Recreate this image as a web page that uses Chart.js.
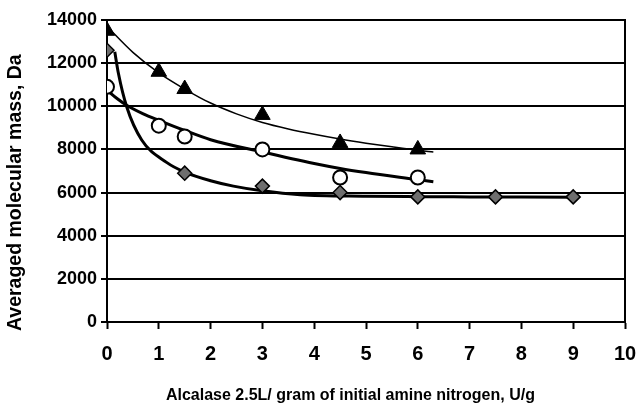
<!DOCTYPE html>
<html>
<head>
<meta charset="utf-8">
<script src="https://cdn.jsdelivr.net/npm/chart.js@4.4.1/dist/chart.umd.min.js"></script>
<style>
  html,body{margin:0;padding:0;background:#fff;}
  #wrap{width:638px;height:406px;position:relative;}
</style>
</head>
<body>
<div id="wrap"><canvas id="c"></canvas></div>
<script>
// measured points
const doses=[0,1,1.5,3,4.5,6];
const triMass=[13500,11600,10800,9600,8300,8000];
const circMass=[10900,9100,8600,8000,6700,6700];
const diaDoses=[0,1.5,3,4.5,6,7.5,9];
const diaMass=[12600,6900,6300,6000,5800,5800,5800];

// trend curves
const triFitX=[0,0.5,1,1.5,2,2.5,3,3.5,4,4.5,5,5.5,6,6.3];
const triFitY=[13700,12500,11550,10800,10150,9650,9250,8950,8700,8480,8290,8120,7960,7880];
const circFitX=[0,0.2,0.38,0.7,1,1.5,2,3,4,4.5,5,6,6.3];
const circFitY=[10750,10350,10050,9650,9350,8880,8450,7880,7350,7120,6930,6600,6500];
const diaFitX=[0.15,0.22,0.38,0.67,1.15,1.5,2,2.44,3,3.73,5,6,7,8,9.1];
const diaFitY=[12530,11530,9980,8440,7400,6950,6550,6300,6080,5900,5830,5810,5800,5790,5780];

const xTicks=[0,1,2,3,4,5,6,7,8,9,10];
const yTicks=[0,2000,4000,6000,8000,10000,12000,14000];

const pts=(xs,ys)=>xs.map((x,i)=>({x,y:ys[i]}));
const FONT="'Liberation Sans',Arial,sans-serif";
const fitLine=(xs,ys,w)=>({data:pts(xs,ys),borderColor:'#000',borderWidth:w,pointRadius:0,fill:false,cubicInterpolationMode:'monotone',order:2});

new Chart(document.getElementById('c'),{
  type:'line',
  data:{datasets:[
    fitLine(triFitX,triFitY,1.5),
    fitLine(circFitX,circFitY,3),
    fitLine(diaFitX,diaFitY,3),
    {data:pts(doses,triMass),showLine:false,pointStyle:'triangle',pointRadius:9,backgroundColor:'#000',borderColor:'#000',borderWidth:1,order:1},
    {data:pts(doses,circMass),showLine:false,pointStyle:'circle',pointRadius:7,backgroundColor:'#fff',borderColor:'#000',borderWidth:2,order:1},
    {data:pts(diaDoses,diaMass),showLine:false,pointStyle:'rectRot',pointRadius:7,backgroundColor:'#6e6e6e',borderColor:'#000',borderWidth:1.5,order:1}
  ]},
  options:{
    responsive:true,maintainAspectRatio:false,animation:false,
    layout:{padding:{left:0,top:20,right:13,bottom:0}},
    plugins:{legend:{display:false},tooltip:{enabled:false}},
    scales:{
      x:{type:'linear',min:0,max:10,
        afterBuildTicks:s=>{s.ticks=xTicks.map(v=>({value:v}));},
        afterFit:s=>{s.height=84;s.paddingRight=0;s.paddingLeft=0;},
        grid:{drawOnChartArea:false,drawTicks:true,tickLength:7,tickColor:'#000',tickWidth:2},
        border:{display:true,color:'#000',width:2},
        ticks:{color:'#000',font:{family:FONT,size:20,weight:'bold'},padding:13,maxRotation:0,callback:v=>String(v)},
        title:{display:true,text:'Alcalase 2.5L/ gram of initial amine nitrogen, U/g       ',color:'#000',
          font:{family:FONT,size:16,weight:'bold'},padding:{top:0,bottom:1}}
      },
      y:{min:0,max:14000,
        afterBuildTicks:s=>{s.ticks=yTicks.map(v=>({value:v}));},
        afterFit:s=>{s.width=107;},
        grid:{color:'#000',lineWidth:2,drawTicks:true,tickLength:6,tickColor:'#000'},
        border:{display:true,color:'#000',width:2},
        ticks:{color:'#000',font:{family:FONT,size:18,weight:'bold'},padding:4,callback:v=>String(v)},
        title:{display:true,text:'Averaged molecular mass, Da        ',color:'#000',
          font:{family:FONT,size:19.5,weight:'bold'},padding:{top:4,bottom:0}}
      },
      yR:{position:'right',min:0,max:14000,
        afterFit:s=>{s.width=0;},
        grid:{drawOnChartArea:false,drawTicks:false},
        border:{display:true,color:'#000',width:2},
        ticks:{display:false}
      }
    }
  }
});
</script>
</body>
</html>
